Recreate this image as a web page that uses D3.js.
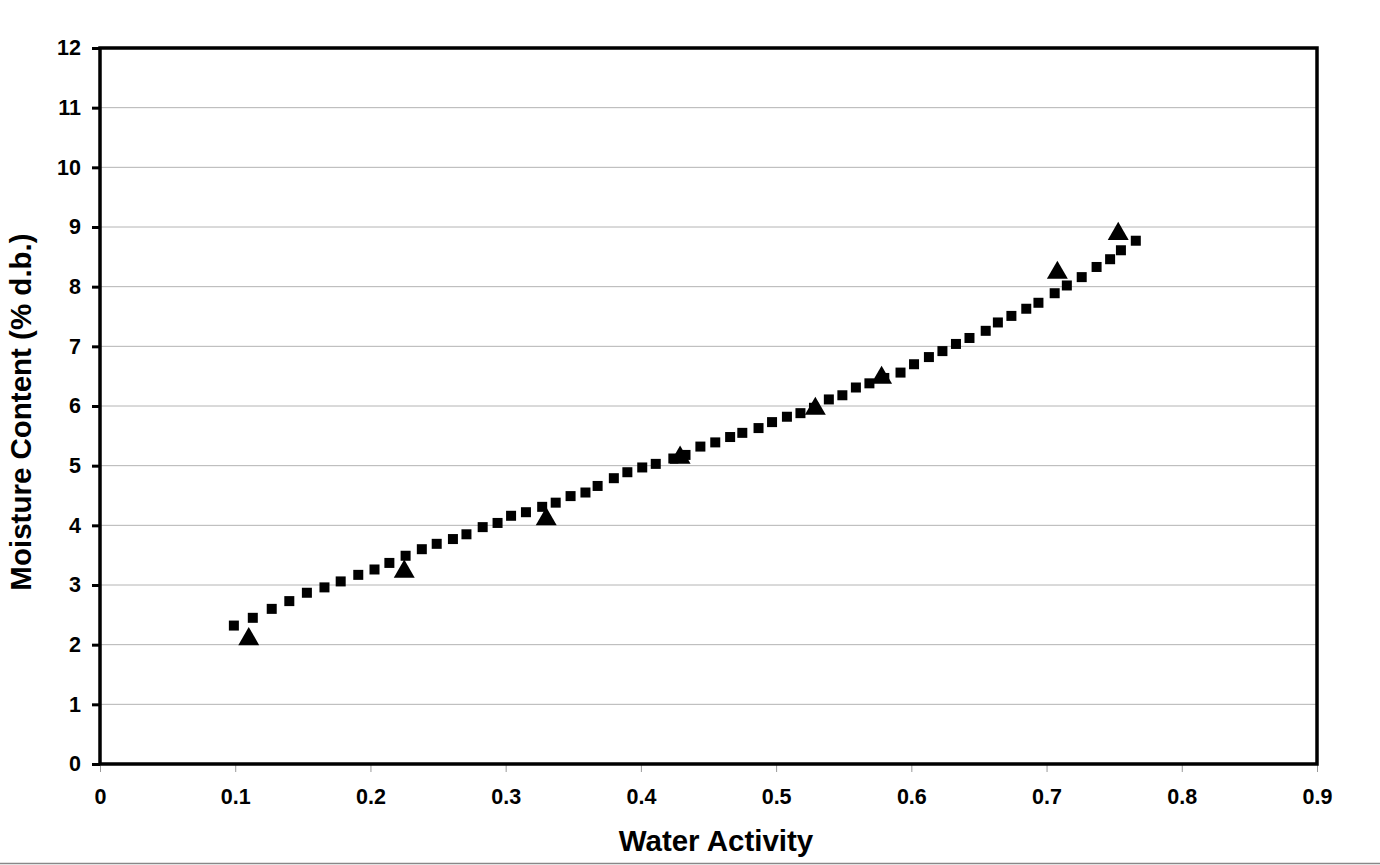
<!DOCTYPE html>
<html>
<head>
<meta charset="utf-8">
<script src="https://cdn.jsdelivr.net/npm/d3@7"></script>
<style>
  body { margin: 0; background: #fff; }
  text { font-family: "Liberation Sans", Arial, sans-serif; font-weight: bold; fill: #000; }
</style>
</head>
<body>
<script>
// model curve (squares)
const modelAw = [0.099, 0.113, 0.127, 0.140, 0.153, 0.166, 0.178, 0.191, 0.203, 0.214,
  0.226, 0.238, 0.249, 0.261, 0.271, 0.283, 0.294, 0.304, 0.315, 0.327,
  0.337, 0.348, 0.359, 0.368, 0.380, 0.390, 0.401, 0.411, 0.424, 0.433,
  0.444, 0.455, 0.466, 0.475, 0.487, 0.497, 0.508, 0.518, 0.528, 0.539,
  0.549, 0.559, 0.569, 0.580, 0.592, 0.602, 0.613, 0.623, 0.633, 0.643,
  0.655, 0.664, 0.674, 0.685, 0.694, 0.706, 0.715, 0.726, 0.737, 0.747,
  0.755, 0.766];
const modelMc = [2.32, 2.45, 2.60, 2.73, 2.87, 2.96, 3.06, 3.17, 3.26, 3.37,
  3.49, 3.60, 3.69, 3.77, 3.85, 3.97, 4.04, 4.16, 4.22, 4.31,
  4.38, 4.49, 4.55, 4.66, 4.79, 4.89, 4.97, 5.03, 5.12, 5.18,
  5.32, 5.39, 5.48, 5.55, 5.63, 5.73, 5.82, 5.88, 5.97, 6.11,
  6.18, 6.31, 6.38, 6.47, 6.56, 6.70, 6.82, 6.92, 7.04, 7.14,
  7.26, 7.40, 7.51, 7.63, 7.73, 7.89, 8.02, 8.16, 8.33, 8.46,
  8.61, 8.77];

// experimental points (triangles)
const expAw = [0.110, 0.225, 0.330, 0.429, 0.529, 0.578, 0.708, 0.753];
const expMc = [2.11, 3.24, 4.12, 5.15, 5.97, 6.49, 8.25, 8.90];

const xTicks = [0, 0.1, 0.2, 0.3, 0.4, 0.5, 0.6, 0.7, 0.8, 0.9];
const yTicks = [0, 1, 2, 3, 4, 5, 6, 7, 8, 9, 10, 11, 12];

const width = 1380, height = 865;
const plotLeft = 100, plotRight = 1317, plotTop = 48, plotBottom = 764;

const x = d3.scaleLinear().domain([0, 0.9]).range([plotLeft, plotRight]);
const y = d3.scaleLinear().domain([0, 12]).range([plotBottom, plotTop]);

const svg = d3.select("body").append("svg")
  .attr("width", width).attr("height", height);

// gridlines
svg.append("g")
  .selectAll("line")
  .data(yTicks.slice(1, -1))
  .join("line")
  .attr("x1", plotLeft).attr("x2", plotRight)
  .attr("y1", d => y(d)).attr("y2", d => y(d))
  .attr("stroke", "#b4b4b4").attr("stroke-width", 1);

// y axis
const yAxis = svg.append("g")
  .attr("transform", `translate(${plotLeft},0)`)
  .call(d3.axisLeft(y).tickValues(yTicks).tickFormat(d3.format("d")).tickSize(8).tickPadding(11));
yAxis.select(".domain").remove();
yAxis.selectAll(".tick line").attr("stroke", "#000").attr("stroke-width", 3);
yAxis.selectAll(".tick text").style("font-size", "21.5px");

// x axis
const xAxis = svg.append("g")
  .attr("transform", `translate(0,${plotBottom})`)
  .call(d3.axisBottom(x).tickValues(xTicks).tickFormat(d => d === 0 ? "0" : d3.format(".1f")(d)).tickSize(8).tickPadding(17));
xAxis.select(".domain").remove();
xAxis.selectAll(".tick line").attr("stroke", "#999").attr("stroke-width", 1);
xAxis.selectAll(".tick text").style("font-size", "21.5px");

// plot frame
svg.append("rect")
  .attr("x", plotLeft).attr("y", plotTop)
  .attr("width", plotRight - plotLeft).attr("height", plotBottom - plotTop)
  .attr("fill", "none").attr("stroke", "#000").attr("stroke-width", 3.5);

// squares
const sq = 10;
svg.append("g")
  .selectAll("rect")
  .data(modelAw.map((a, i) => [a, modelMc[i]]))
  .join("rect")
  .attr("x", d => x(d[0]) - sq / 2)
  .attr("y", d => y(d[1]) - sq / 2)
  .attr("width", sq).attr("height", sq)
  .attr("fill", "#000");

// triangles
const tri = d3.symbol().type(d3.symbolTriangle).size(190);
svg.append("g")
  .selectAll("path")
  .data(expAw.map((a, i) => [a, expMc[i]]))
  .join("path")
  .attr("d", tri)
  .attr("transform", d => `translate(${x(d[0])},${y(d[1]) + 1})`)
  .attr("fill", "#000");

// axis titles
svg.append("text")
  .attr("x", 716).attr("y", 851)
  .attr("text-anchor", "middle")
  .style("font-size", "29.5px")
  .text("Water Activity");

svg.append("text")
  .attr("transform", `translate(31,412) rotate(-90)`)
  .attr("text-anchor", "middle")
  .style("font-size", "29.5px")
  .text("Moisture Content (% d.b.)");

// bottom rule
svg.append("line")
  .attr("x1", 0).attr("x2", width)
  .attr("y1", 863.5).attr("y2", 863.5)
  .attr("stroke", "#888").attr("stroke-width", 1.5);
</script>
</body>
</html>
